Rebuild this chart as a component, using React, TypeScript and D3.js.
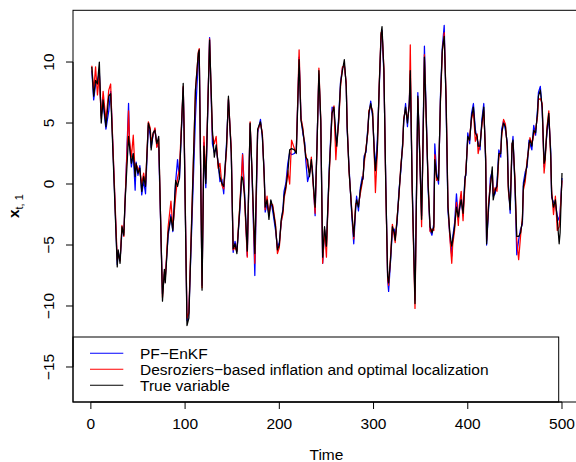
import React from "react";
import * as d3 from "d3";

const timeSteps = [1,3,5,7,9,11,13,16,19,21,22,28,29,31,33,35,36,40,41,43,45,47,48,50,52,54,56,58,61,63,64,66,68,70,72,76,78,79,82,85,87,90,92,94,98,99,102,104,111,114,115,118,120,122,126,129,131,133,135,137,139,141,144,146,149,151,153,155,158,160,161,163,166,169,171,174,177,180,182,184,185,187,189,191,193,196,198,200,202,204,205,207,209,211,213,216,218,221,223,225,227,228,230,232,234,235,238,240,242,244,246,248,250,251,253,256,258,260,261,263,265,267,269,271,272,274,277,279,281,282,284,286,288,289,290,292,294,295,297,299,301,302,304,306,308,309,311,313,315,316,318,320,322,323,325,327,329,331,332,334,336,338,339,341,344,347,349,351,352,354,356,358,360,362,364,365,367,369,371,373,375,377,379,381,383,384,386,388,390,391,393,395,397,398,400,402,404,406,408,410,411,413,415,417,419,420,422,424,426,427,429,431,433,435,436,438,440,442,443,445,447,448,450,452,454,456,458,459,461,463,465,466,468,470,472,474,475,477,479,481,482,484,486,488,489,491,493,495,497,498,500];

const trueVariable = [9.6,7.2,8.5,8.2,10.0,5.0,6.9,4.7,7.2,7.4,5.5,-6.8,-5.4,-6.5,-3.5,-4.2,-1.9,3.9,3.1,1.7,2.5,0.6,1.7,0.9,1.3,-0.6,0.6,-0.2,5.0,4.4,2.8,4.2,4.4,3.3,3.9,-9.6,-7.0,-8.1,-4.0,-2.7,-3.8,0.3,-0.2,0.5,8.25,4.0,-11.6,-11.0,7.7,10.7,11.0,-8.7,3.1,0.05,11.8,4.4,2.2,3.2,1.7,0.6,0.05,-0.2,3.1,7.2,2.5,-5.3,-4.9,-5.7,-2.0,0.6,0.5,-0.8,-5.5,5.0,1.1,-5.7,4.5,5.1,4.0,0.6,-1.9,-1.3,-2.9,-1.3,-1.9,-3.5,-5.4,-5.0,-2.9,-2.1,-1.0,-0.2,0.9,2.8,2.9,2.8,2.5,10.2,5.2,4.4,3.1,2.2,2.0,0.6,2.0,1.1,-1.9,3.1,9.3,5.2,-6.0,-3.5,-5.1,-2.9,1.1,5.8,6.3,4.0,3.1,5.2,8.25,9.3,10.2,8.0,4.7,1.1,-2.4,-4.3,-1.9,-1.3,-1.9,-0.5,0.3,0.6,2.0,2.8,4.4,5.8,6.6,5.8,2.2,1.1,2.8,8.0,12.3,12.9,9.3,-0.2,-7.6,-8.1,-6.2,-3.5,-4.0,-4.6,-2.9,-0.8,1.4,3.3,5.2,6.3,5.0,6.6,9.3,-0.2,-9.8,7.2,2.5,-2.9,1.1,10.4,5.2,-0.2,-3.5,-4.0,-3.5,2.0,0.6,0.3,6.9,11.0,12.1,6.9,-1.9,-4.0,-5.1,-4.6,-3.5,-1.9,-2.7,-2.1,-1.3,-2.4,0.3,0.9,3.9,3.6,5.5,6.3,4.2,3.9,3.1,3.1,5.0,6.3,2.0,-4.9,-1.9,-0.2,1.4,-1.3,-0.5,-0.2,2.5,2.5,4.2,5.0,4.7,3.1,-0.2,-2.1,3.3,3.6,0.3,-4.3,-4.3,-4.0,-3.0,-0.2,0.6,1.7,3.3,3.6,3.1,4.4,4.2,5.8,7.2,7.7,6.3,1.7,2.0,4.4,5.8,2.5,-0.8,-1.9,-1.3,-2.9,-4.9,-4.0,0.9];

const pfEnkf = [9.3,6.9,8.2,8.4,9.2,5.6,6.6,4.5,6.0,7.6,5.9,-6.6,-5.6,-6.2,-3.9,-4.0,-2.2,6.6,3.4,1.4,2.5,-0.5,1.8,0.7,1.5,-0.9,0.3,-0.8,4.8,4.0,3.0,4.0,4.5,3.2,3.0,-9.0,-7.4,-7.6,-4.3,-2.5,-3.9,0.2,2.0,0.4,7.9,4.4,-11.2,-10.6,5.5,10.3,10.8,-8.3,3.4,-0.3,12.0,3.3,2.6,2.9,1.8,0.2,0.4,-0.8,3.4,6.9,2.7,-5.6,-4.7,-5.5,-2.3,0.3,2.5,-0.5,-5.9,4.9,0.9,-7.5,4.2,5.3,3.8,0.9,-2.3,-1.6,-2.6,-1.4,-2.2,-3.8,-5.2,-4.8,-3.2,-1.9,-0.6,0.1,1.7,2.6,2.4,2.5,2.8,10.4,5.5,4.1,3.4,2.0,0.2,0.8,1.6,1.4,-2.6,3.4,9.0,5.0,-6.5,-3.8,-5.0,-3.1,1.3,6.3,6.1,3.6,3.4,5.5,8.4,9.5,9.8,8.2,4.5,1.4,-2.7,-4.9,-2.1,-1.0,-2.2,-0.3,0.6,0.4,2.3,2.6,4.7,5.6,6.8,5.5,2.6,1.3,3.6,7.8,12.1,12.6,9.0,0.1,-7.9,-8.8,-6.4,-3.8,-3.7,-4.4,-3.2,-0.5,1.1,3.5,5.0,6.6,4.7,6.9,9.0,0.1,-9.5,7.5,2.2,-2.6,1.3,11.3,5.5,-0.5,-3.8,-4.2,-3.2,3.3,0.9,0.0,7.2,11.2,13.0,6.5,-2.2,-4.3,-5.9,-4.4,-3.2,-0.8,-2.9,-2.3,-1.0,-2.6,0.6,0.7,4.2,3.3,5.8,6.6,4.5,3.6,3.4,2.8,5.3,6.6,1.7,-5.0,-2.2,0.5,1.1,-1.0,-0.8,0.1,2.8,2.2,4.5,5.2,4.4,3.4,0.1,-2.4,3.0,3.9,0.0,-5.8,-4.6,-3.7,-3.3,0.1,1.0,1.4,3.6,3.3,2.8,4.8,4.0,6.1,7.5,8.0,6.0,1.4,2.3,4.1,5.5,2.8,-1.1,-1.5,-1.6,-2.6,-3.0,-2.3,0.5];

const desroziers = [9.7,7.6,9.6,7.3,9.0,5.4,7.6,5.2,7.7,8.2,6.0,-6.2,-5.8,-6.3,-3.4,-4.3,-2.0,6.0,3.6,2.2,4.0,0.9,1.6,1.3,1.0,0.0,0.9,-0.1,5.1,4.6,3.5,4.0,4.6,3.0,3.7,-9.3,-7.2,-7.8,-3.5,-1.4,-3.6,-1.0,0.5,1.2,8.0,4.6,-11.0,-10.5,7.7,10.8,11.1,-8.5,3.9,0.4,11.9,4.0,3.3,3.9,1.3,1.7,-0.1,-0.4,2.8,7.0,2.9,-5.4,-5.2,-5.5,-1.8,0.9,2.4,-1.1,-6.0,5.1,1.0,-6.5,4.4,5.0,4.2,0.5,-2.1,-1.0,-2.5,-1.6,-1.7,-3.3,-5.7,-5.2,-3.1,-2.4,-1.2,-0.4,1.1,0.0,3.6,2.9,2.6,11.0,5.4,4.6,2.9,2.5,1.5,0.9,2.2,1.0,-2.4,3.0,9.5,5.3,-6.5,-3.7,-6.0,-3.3,0.8,5.9,6.4,2.0,3.3,5.0,8.0,9.6,9.7,8.3,4.9,1.0,-2.2,-4.5,-1.6,-1.6,-1.7,-0.8,0.1,0.8,1.6,3.0,4.2,6.0,6.4,6.0,1.8,-0.7,2.6,8.1,12.4,12.5,9.5,-0.4,-7.8,-8.3,-6.0,-3.3,-4.3,-4.8,-2.7,-1.0,1.6,3.1,5.4,6.1,5.3,6.4,11.4,-0.5,-10.2,7.0,2.7,-3.5,0.8,10.6,5.0,0.1,-3.9,-3.7,-3.8,2.4,0.3,0.5,6.7,10.8,12.4,7.2,-1.6,-4.4,-6.5,-5.0,-3.8,-1.5,-3.4,-1.8,-0.6,-3.0,0.0,1.2,3.6,3.9,5.3,6.0,3.5,4.1,2.5,3.3,4.8,6.0,2.3,-4.6,-1.6,0.0,1.0,-0.8,-0.3,-0.6,2.2,2.7,3.9,5.3,4.9,2.8,-0.5,-1.8,3.3,3.4,0.6,-4.6,-6.2,-4.3,-2.7,-0.5,0.2,2.0,3.0,3.8,3.3,4.0,4.5,5.5,6.9,7.0,6.6,0.9,1.7,4.6,6.0,2.2,-0.5,-2.5,-1.0,-3.8,-3.5,-2.5,0.3];

const xTicks = [0, 100, 200, 300, 400, 500];
const yTicks = [-15, -10, -5, 0, 5, 10];
const legendLabels = ["PF\u2212EnKF", "Desroziers\u2212based inflation and optimal localization", "True variable"];
const seriesColors = ["#0000ff", "#ff0000", "#000000"];

const W = 576;
const H = 462;
const FONT = "'Liberation Sans', Arial, Helvetica, sans-serif";

export default function App() {
  const left = 73;
  const top = 10.3;
  const bottom = 402;
  const x = d3.scaleLinear().domain([-18.96, 519.96]).range([left, 580.8]);
  const y = d3.scaleLinear().domain([-17.87, 14.24]).range([bottom, top]);
  const right = x(519.96);

  const mk = (vals: number[]) =>
    d3
      .line<number>()
      .x((_, i) => x(timeSteps[i]))
      .y((v) => y(v))(vals) || "";

  const series = [pfEnkf, desroziers, trueVariable];

  const legTop = 337;
  const legRight = 558.7;
  const legRowY = [353.3, 369.3, 385.3];

  return (
    <svg
      width={W}
      height={H}
      style={{ position: "absolute", left: 0, top: 0, background: "#fff" }}
      fontFamily={FONT}
    >
      <rect x={0} y={0} width={W} height={H} fill="#fff" />
      <defs>
        <clipPath id="plotclip">
          <rect x={left} y={top} width={right - left} height={bottom - top} />
        </clipPath>
      </defs>
      <g clipPath="url(#plotclip)">
        {series.map((s, i) => (
          <path key={i} d={mk(s)} fill="none" stroke={seriesColors[i]} strokeWidth={1.25} strokeLinejoin="round" />
        ))}
      </g>
      {/* legend */}
      <rect x={left} y={legTop} width={legRight - left} height={bottom - legTop} fill="#fff" stroke="#000" strokeWidth={1} />
      {legendLabels.map((lab, i) => (
        <g key={lab}>
          <line x1={90} x2={123.3} y1={legRowY[i]} y2={legRowY[i]} stroke={seriesColors[i]} strokeWidth={1.1} />
          <text x={140} y={legRowY[i]} dy="0.35em" fontSize={15.5} fill="#000">
            {lab}
          </text>
        </g>
      ))}
      {/* plot frame */}
      <rect x={left} y={top} width={right - left} height={bottom - top} fill="none" stroke="#000" strokeWidth={1} />
      {/* x axis */}
      <line x1={x(0)} x2={x(500)} y1={bottom} y2={bottom} stroke="#000" />
      {xTicks.map((t) => (
        <g key={t}>
          <line x1={x(t)} x2={x(t)} y1={bottom} y2={bottom + 7} stroke="#000" />
          <text x={x(t)} y={428.5} textAnchor="middle" fontSize={15.5}>
            {t}
          </text>
        </g>
      ))}
      {/* y axis */}
      <line x1={left} x2={left} y1={y(-15)} y2={y(10)} stroke="#000" />
      {yTicks.map((t) => (
        <g key={t}>
          <line x1={left} x2={left - 7} y1={y(t)} y2={y(t)} stroke="#000" />
          <text
            transform={`translate(54,${y(t)}) rotate(-90)`}
            textAnchor="middle"
            fontSize={15.5}
          >
            {t === 0 ? "0" : t < 0 ? "\u2212" + Math.abs(t) : String(t)}
          </text>
        </g>
      ))}
      <text x={(x(0) + x(500)) / 2} y={460} textAnchor="middle" fontSize={15.5}>
        Time
      </text>
      <text transform={`translate(19,${(top + bottom) / 2}) rotate(-90)`} textAnchor="middle" fontSize={15.5}>
        <tspan fontWeight="bold">x</tspan>
        <tspan fontSize={11} dy={4}>t, 1</tspan>
      </text>
    </svg>
  );
}
